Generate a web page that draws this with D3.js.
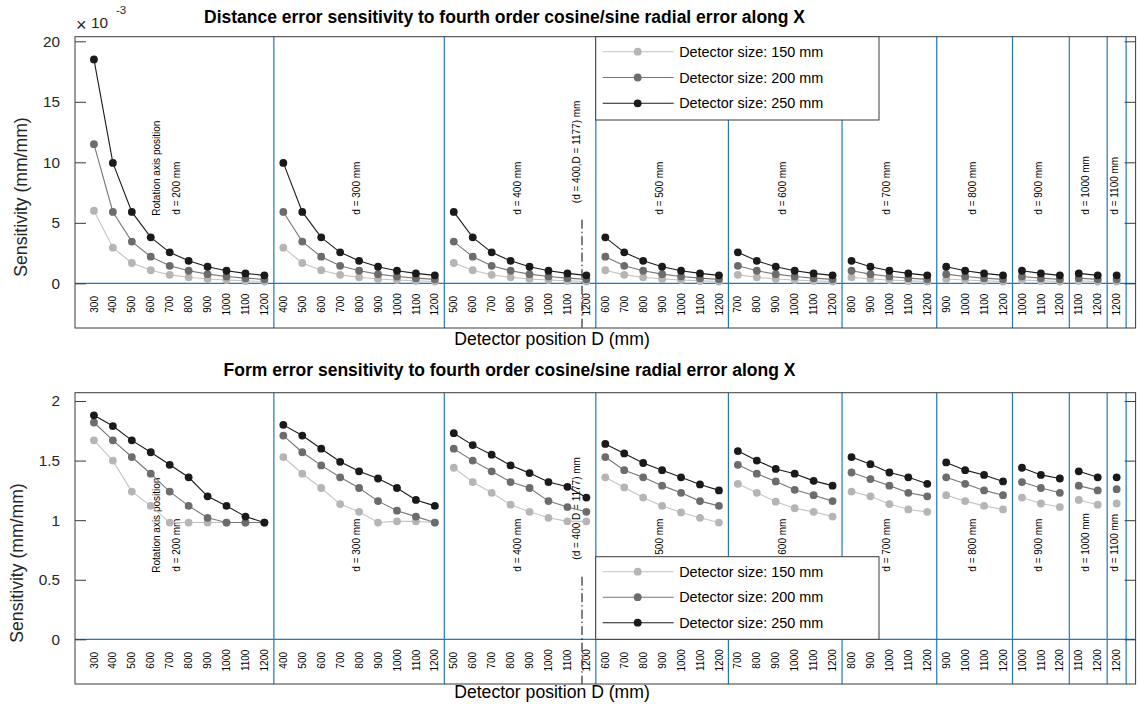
<!DOCTYPE html>
<html>
<head>
<meta charset="utf-8">
<script src="https://cdn.jsdelivr.net/npm/d3@7"></script>
<style>
  body { margin: 0; background: #fff; }
  svg { font-family: "Liberation Sans", Arial, Helvetica, sans-serif; }
</style>
</head>
<body>
<svg id="chart" width="1139" height="704"></svg>
<script>
// Rotation axis positions d (mm), one group of detector positions per d
const rotationAxisD = [200, 300, 400, 500, 600, 700, 800, 900, 1000, 1100];
// Detector positions D (mm)
const detectorD = [300, 400, 500, 600, 700, 800, 900, 1000, 1100, 1200];

const sizeLabels = ["Detector size: 150 mm", "Detector size: 200 mm", "Detector size: 250 mm"];

// Distance error sensitivity (x 10^-3 mm/mm), by detector position D (same for every d)
const distance150 = [6.0, 2.95, 1.68, 1.08, 0.70, 0.50, 0.36, 0.27, 0.20, 0.15];
const distance200 = [11.5, 5.9, 3.45, 2.2, 1.45, 1.04, 0.76, 0.57, 0.43, 0.33];
const distance250 = [18.5, 9.95, 5.9, 3.8, 2.56, 1.86, 1.37, 1.04, 0.82, 0.66];

// Form error sensitivity (mm/mm), one row per rotation axis position d
const form150 = [
  [1.67, 1.50, 1.24, 1.12, 0.98, 0.98, 0.98, 0.98, 0.98, 0.98],
  [1.53, 1.39, 1.27, 1.135, 1.07, 0.98, 0.99, 0.99, 0.98],
  [1.44, 1.32, 1.23, 1.13, 1.07, 1.02, 0.99, 0.99],
  [1.36, 1.275, 1.19, 1.12, 1.065, 1.02, 0.98],
  [1.305, 1.23, 1.155, 1.10, 1.07, 1.03],
  [1.24, 1.20, 1.135, 1.09, 1.07],
  [1.21, 1.16, 1.12, 1.09],
  [1.19, 1.14, 1.11],
  [1.17, 1.13],
  [1.14]
];
const form200 = [
  [1.82, 1.67, 1.53, 1.39, 1.24, 1.12, 1.02, 0.98, 0.98, 0.98],
  [1.71, 1.57, 1.46, 1.36, 1.27, 1.16, 1.08, 1.03, 0.98],
  [1.60, 1.50, 1.41, 1.32, 1.27, 1.16, 1.11, 1.07],
  [1.53, 1.42, 1.36, 1.29, 1.23, 1.16, 1.12],
  [1.465, 1.39, 1.325, 1.255, 1.21, 1.16],
  [1.40, 1.345, 1.29, 1.23, 1.20],
  [1.36, 1.305, 1.25, 1.21],
  [1.32, 1.27, 1.23],
  [1.29, 1.25],
  [1.26]
];
const form250 = [
  [1.88, 1.79, 1.67, 1.57, 1.465, 1.36, 1.20, 1.12, 1.03, 0.98],
  [1.80, 1.71, 1.60, 1.49, 1.41, 1.35, 1.27, 1.17, 1.12],
  [1.73, 1.63, 1.55, 1.46, 1.395, 1.32, 1.28, 1.19],
  [1.64, 1.56, 1.48, 1.42, 1.36, 1.30, 1.25],
  [1.58, 1.50, 1.43, 1.39, 1.33, 1.29],
  [1.53, 1.47, 1.40, 1.36, 1.305],
  [1.485, 1.42, 1.38, 1.325],
  [1.44, 1.38, 1.35],
  [1.41, 1.36],
  [1.36]
];

const yTicksTop = [0, 5, 10, 15, 20];
const yTicksBottom = [0, 0.5, 1, 1.5, 2];

// Marked configuration (d = 400, D = 1177)
const markedD = 400;
const markedDetector = 1177;

// ---------------------------------------------------------------
const svg = d3.select("#chart");
const colors = {
  fill: ["#b5b5b5", "#6c6c6c", "#1a1a1a"],
  line: ["#c4c4c4", "#767676", "#1a1a1a"]
};
const axisBlue = "#1f78c1";
const boxColor = "#3a3a3a";

// Build the slot layout: every (d, D) pair with D > d gets one slot along x
const groups = [];
let slot = 1;
rotationAxisD.forEach((d, gi) => {
  const Ds = detectorD.filter(D => D > d);
  const items = Ds.map((D, k) => ({ D, slot: slot + k, di: detectorD.indexOf(D), k }));
  groups.push({ d, gi, items, first: slot, last: slot + Ds.length - 1 });
  slot += Ds.length;
});
const slotCount = slot; // one empty slot after the final group

const xLeft = 75, xRight = 1135.6;
const x = d3.scaleLinear().domain([0, slotCount]).range([xLeft, xRight]);
const separators = groups.map(g => g.last + 0.5);

// slot of D = 1177 within the d = 400 group
const markedGroup = groups.find(g => g.d === markedD);
const lowItem = markedGroup.items.filter(it => it.D <= markedDetector).slice(-1)[0];
const markedSlot = lowItem.slot + (markedDetector - lowItem.D) / 100;

function vtext(parent, px, py, txt) {
  return parent.append("text")
    .attr("transform", `translate(${px},${py}) rotate(-90)`)
    .attr("text-anchor", "start").attr("font-size", 10).attr("fill", "#000")
    .text(txt);
}

function drawPanel(cfg) {
  const g = svg.append("g");
  const top = cfg.top, bottom = cfg.top + cfg.height;
  const y = d3.scaleLinear().domain(cfg.domain).range([bottom, top]);

  // title
  svg.append("text")
    .attr("x", cfg.titleX).attr("y", cfg.titleY)
    .attr("text-anchor", "middle")
    .attr("font-weight", "bold").attr("font-size", 17.5)
    .attr("fill", "#000")
    .text(cfg.title);

  // group separators
  g.selectAll("line.sep").data(separators).join("line")
    .attr("class", "sep")
    .attr("x1", d => x(d)).attr("x2", d => x(d))
    .attr("y1", top).attr("y2", bottom)
    .attr("stroke", axisBlue).attr("stroke-width", 1.2);

  // zero line
  g.append("line")
    .attr("x1", xLeft).attr("x2", xRight)
    .attr("y1", y(0)).attr("y2", y(0))
    .attr("stroke", axisBlue).attr("stroke-width", 1.2);

  // dash-dot marker line
  g.append("line")
    .attr("x1", x(markedSlot)).attr("x2", x(markedSlot))
    .attr("y1", top + cfg.markLineStart).attr("y2", bottom)
    .attr("stroke", "#000").attr("stroke-width", 1)
    .attr("stroke-dasharray", "9,3,1.5,3");

  // box
  g.append("rect")
    .attr("x", xLeft).attr("y", top)
    .attr("width", xRight - xLeft).attr("height", cfg.height)
    .attr("fill", "none").attr("stroke", boxColor).attr("stroke-width", 1);

  // y axis ticks (left, labelled) and right (unlabelled)
  const left = d3.axisLeft(y).tickValues(cfg.ticks).tickSizeInner(-11).tickSizeOuter(0)
    .tickPadding(15).tickFormat(cfg.tickFormat);
  const ga = g.append("g").attr("transform", `translate(${xLeft},0)`).call(left);
  ga.select(".domain").remove();
  ga.selectAll("line").attr("stroke", boxColor);
  ga.selectAll("text").attr("font-size", 15.3).attr("fill", "#262626")
    .attr("font-family", "Liberation Sans, Arial, sans-serif");

  const right = d3.axisRight(y).tickValues(cfg.ticks).tickSizeInner(-11).tickSizeOuter(0).tickFormat("");
  const gr = g.append("g").attr("transform", `translate(${xRight},0)`).call(right);
  gr.select(".domain").remove();
  gr.selectAll("line").attr("stroke", boxColor);

  // x tick labels (rotated detector positions)
  const allItems = groups.flatMap(gp => gp.items);
  g.selectAll("text.xt").data(allItems).join("text")
    .attr("class", "xt")
    .attr("transform", d => `translate(${x(d.slot) + 3.6},${y(0) + 21}) rotate(-90)`)
    .attr("text-anchor", "middle")
    .attr("font-size", 10).attr("fill", "#000")
    .text(d => d.D);

  // group labels
  groups.forEach(gp => {
    const cx = x((gp.first + gp.last) / 2) + 1;
    vtext(g, cx, top + cfg.labelEnd, `d = ${gp.d} mm`);
    if (gp.gi === 0) vtext(g, cx - 20, top + cfg.labelEnd + 1, "Rotation axis position");
  });
  vtext(g, x(markedSlot) - 2.5, top + cfg.markLabelEnd, `(d = ${markedD},D = ${markedDetector}) mm`);

  // series: lines then markers, lightest first
  const line = d3.line().x(d => x(d.slot)).y(d => y(d.v));
  cfg.series.forEach((getter, si) => {
    groups.forEach(gp => {
      const pts = gp.items.map(it => ({ slot: it.slot, v: getter(gp, it) }));
      g.append("path").attr("d", line(pts))
        .attr("fill", "none").attr("stroke", colors.line[si]).attr("stroke-width", 1.1);
      g.selectAll(null).data(pts).join("circle")
        .attr("cx", d => x(d.slot)).attr("cy", d => y(d.v)).attr("r", 3.9)
        .attr("fill", colors.fill[si]);
    });
  });

  // axis labels
  svg.append("text")
    .attr("transform", `translate(${cfg.ylabelX},${cfg.ylabelY}) rotate(-90)`)
    .attr("text-anchor", "middle").attr("font-size", 17.6).attr("fill", "#262626")
    .text("Sensitivity (mm/mm)");
  svg.append("text")
    .attr("x", 552).attr("y", cfg.xlabelY)
    .attr("text-anchor", "middle").attr("font-size", 17.6).attr("fill", "#000")
    .text("Detector position D (mm)");

  // legend
  const lg = svg.append("g");
  lg.append("rect")
    .attr("x", cfg.legend.x).attr("y", cfg.legend.y)
    .attr("width", cfg.legend.w).attr("height", cfg.legend.h)
    .attr("fill", "#fff").attr("stroke", boxColor).attr("stroke-width", 1);
  sizeLabels.forEach((lab, i) => {
    const ly = cfg.legend.y + cfg.legend.first + i * cfg.legend.step;
    lg.append("line")
      .attr("x1", cfg.legend.x + 7).attr("x2", cfg.legend.x + 78)
      .attr("y1", ly).attr("y2", ly)
      .attr("stroke", colors.line[i]).attr("stroke-width", 1.1);
    lg.append("circle").attr("cx", cfg.legend.x + 42).attr("cy", ly).attr("r", 3.9)
      .attr("fill", colors.fill[i]);
    lg.append("text")
      .attr("x", cfg.legend.x + 83.5).attr("y", ly + 5)
      .attr("font-size", 14.4).attr("fill", "#000")
      .text(lab);
  });
  return y;
}

// Top panel: distance error sensitivity
drawPanel({
  top: 36.7, height: 291.3, domain: [-3.69, 20.38],
  ticks: yTicksTop, tickFormat: d3.format("d"),
  title: "Distance error sensitivity to fourth order cosine/sine radial error along X",
  titleX: 504.5, titleY: 23,
  labelEnd: 178, markLabelEnd: 166.5, markLineStart: 183,
  ylabelX: 27, ylabelY: 197, xlabelY: 345,
  series: [
    (gp, it) => distance150[it.di],
    (gp, it) => distance200[it.di],
    (gp, it) => distance250[it.di]
  ],
  legend: { x: 595.7, y: 36.7, w: 283.3, h: 83.3, first: 15, step: 25.8 }
});

// exponent note for the top panel
svg.append("text").attr("x", 76).attr("y", 31).attr("font-size", 18).attr("font-weight", 300).attr("fill", "#262626").text("\u00d7");
svg.append("text").attr("x", 91).attr("y", 28).attr("font-size", 15.3).attr("fill", "#262626").text("10");
svg.append("text").attr("x", 116).attr("y", 14).attr("font-size", 11.5).attr("fill", "#262626").text("-3");

// Bottom panel: form error sensitivity
drawPanel({
  top: 392.7, height: 291.3, domain: [-0.375, 2.07],
  ticks: yTicksBottom, tickFormat: d => String(d),
  title: "Form error sensitivity to fourth order cosine/sine radial error along X",
  titleX: 509.5, titleY: 375.5,
  labelEnd: 179, markLabelEnd: 167, markLineStart: 184,
  ylabelX: 23, ylabelY: 563, xlabelY: 698,
  series: [
    (gp, it) => form150[gp.gi][it.k],
    (gp, it) => form200[gp.gi][it.k],
    (gp, it) => form250[gp.gi][it.k]
  ],
  legend: { x: 595.7, y: 556.7, w: 283.3, h: 82.6, first: 15, step: 25.5 }
});
</script>
</body>
</html>
